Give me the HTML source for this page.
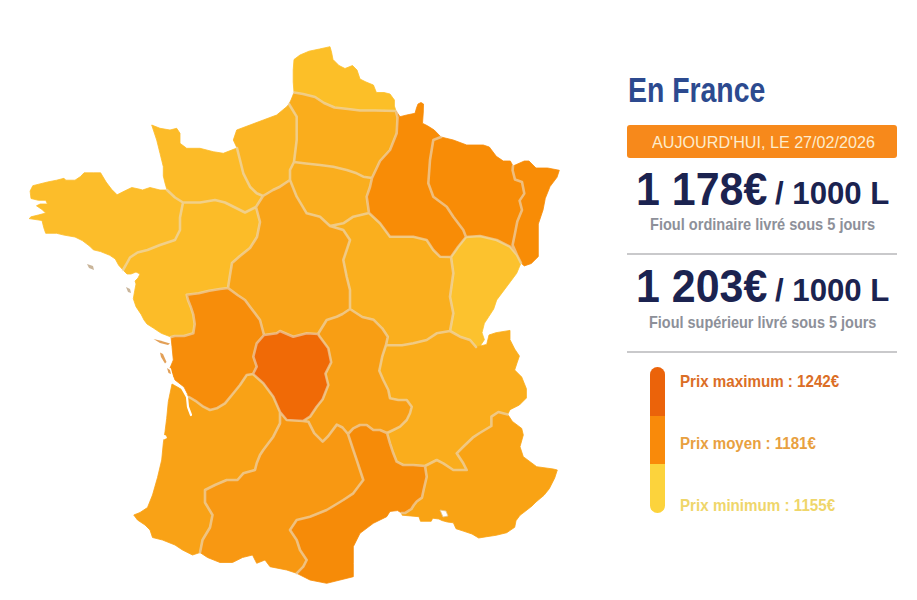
<!DOCTYPE html>
<html><head><meta charset="utf-8">
<style>
html,body{margin:0;padding:0;background:#fff;}
body{width:917px;height:600px;position:relative;overflow:hidden;font-family:"Liberation Sans",sans-serif;}
.t{position:absolute;white-space:nowrap;line-height:1;transform-origin:0 0;}
</style></head><body>
<svg width="917" height="600" viewBox="0 0 917 600" style="position:absolute;left:0;top:0">
<g stroke-linejoin="round">
<path fill="#fcbf28" stroke="#fcbf28" stroke-width="0.8" d="M294,92.5 L293.2,82 L293.2,70 L294,59.5 L300,55 L309,51.2 L319.5,49 L330,46.7 L331.5,52 L333,59.5 L339,65.5 L345,68.5 L352.5,65.5 L357,70 L360,79 L366,82 L373.4,85 L376.4,92.5 L384,92.5 L390,94 L394.4,100 L394.4,106 L396,111 L375,110.5 L360,110.5 L348,109 L334.5,107.5 L324,103 L315,97 L303,94Z"/>
<path fill="#faad1c" stroke="#faad1c" stroke-width="0.8" d="M294,92.5 L303,94 L315,97 L324,103 L334.5,107.5 L348,109 L360,110.5 L375,110.5 L396,111 L397.5,117.5 L396.7,133.3 L390,150 L380,161 L372,178 L363.3,176.7 L356.7,173.3 L346.7,170 L333.3,166.7 L320,165 L306,163.5 L294,162 L296.7,140 L296.7,116.7 L289,104 L291,100Z"/>
<path fill="#fbb524" stroke="#fbb524" stroke-width="0.8" d="M289,104 L296.7,116.7 L296.7,140 L294,162 L290,170 L290,180 L280,186.7 L273,190 L263,196 L256.7,193.3 L250,186.7 L243.3,173.3 L240,160 L237,148 L233.3,140 L236.7,130 L250,125 L263.3,120 L276.7,115 L286.7,106.7Z"/>
<path fill="#fcbb28" stroke="#fcbb28" stroke-width="0.8" d="M237,148 L240,160 L243.3,173.3 L250,186.7 L256.7,193.3 L263,196 L256,207 L245,212.5 L235,207.5 L225,202.5 L215,200 L200,202.5 L183,202.5 L175,197.5 L167,190 L165,183 L163.3,176 L163.3,166.7 L160,153.3 L156.7,140 L151.7,125 L160,128.3 L170,130 L176.7,128.3 L180,133.3 L180,143.3 L186.7,148.3 L200,148.3 L213.3,151.7 L223.3,153.3Z"/>
<path fill="#fcbd2a" stroke="#fcbd2a" stroke-width="0.8" d="M167,190 L175,197.5 L183,202.5 L180,217.5 L180,230 L175,240 L160,245 L147.5,250 L137.5,252.5 L130,257.5 L127,263 L123,270 L118.7,265.3 L115.3,259 L109.8,255.3 L100.6,251.6 L93.3,249.8 L89.6,246.1 L82.3,240.6 L75,237 L64,235.1 L56.6,233.3 L45.7,233.3 L43.8,227.8 L42,220.5 L29.2,218.6 L31,216.8 L38.3,215 L45.7,213.1 L42,209.5 L36.5,205.8 L40.2,204 L47.5,204 L45.7,200.3 L38.3,200.3 L31,198.5 L30.1,191.1 L32.8,185.7 L47.5,182 L56.6,180.2 L64,178.3 L65.8,180.2 L75,180.2 L80.5,176.5 L84.1,172.8 L93.3,172.8 L100.6,172.8 L106.1,182 L111.6,189.3 L117.1,194.8 L124.4,191.1 L131.8,187.5 L140,189.3 L142.5,190 L150,187.5 L160,190Z"/>
<path fill="#fcbc28" stroke="#fcbc28" stroke-width="0.8" d="M183,202.5 L200,202.5 L215,200 L225,202.5 L235,207.5 L245,212.5 L256,207 L260,222 L257,237 L250,248 L240,256 L232,263 L230,275 L228,288 L220,289 L209.3,290.7 L198.7,293.3 L186.7,294.7 L188,300 L190.7,306.7 L193.3,314.7 L194.7,324 L193.3,333.3 L184,336 L174.7,336 L171,337 L161.3,333.3 L153.3,328 L147,324 L144,320 L141.3,314.7 L136,306.7 L133.3,298.7 L134.7,290.7 L136,284 L135,281 L138,278 L140,274 L136,272 L131,274 L127,274 L123,270 L127,263 L130,257.5 L137.5,252.5 L147.5,250 L160,245 L175,240 L180,230 L180,217.5Z"/>
<path fill="#f9a418" stroke="#f9a418" stroke-width="0.8" d="M290,180 L296.7,196.7 L306.7,213.3 L320,216.7 L330,226 L343.3,230 L350,240 L346.7,250 L343.3,260 L346.7,276.7 L350,290 L350,309 L342.5,314 L336.7,316.7 L326.7,320 L318,334 L306.7,333.3 L293.3,336.7 L280,331 L276.7,333.3 L264,335 L260,320 L250,306.7 L245,300 L237.5,295 L228,288 L230,275 L232,263 L240,256 L250,248 L257,237 L260,222 L256,207 L263,196 L273,190 L280,186.7Z"/>
<path fill="#faae1e" stroke="#faae1e" stroke-width="0.8" d="M294,162 L306,163.5 L320,165 L333.3,166.7 L346.7,170 L356.7,173.3 L363.3,176.7 L372,178 L370,187 L366.7,196.7 L369,213 L353.3,216.7 L343.3,223.3 L330,226 L320,216.7 L306.7,213.3 L296.7,196.7 L290,180 L290,170Z"/>
<path fill="#f88c06" stroke="#f88c06" stroke-width="0.8" d="M396,111 L400,116.7 L406.7,115 L415,113.3 L416.5,108 L418,104 L421,102.5 L423.5,104 L423.3,112 L422.5,123.3 L427.5,125.8 L434.2,130 L441,137 L433.3,140 L430,160 L428.3,183.3 L433.3,196.7 L446.7,206.7 L453.3,216.7 L463.3,230 L466,237 L458,247 L451,257 L440,256.7 L433.3,250 L426.7,240 L413.3,236.7 L390,236.7 L380,223.3 L369,213 L366.7,196.7 L370,187 L372,178 L380,161 L390,150 L396.7,133.3 L397.5,117.5Z"/>
<path fill="#f88c06" stroke="#f88c06" stroke-width="0.8" d="M441,137 L453.3,140 L466.7,145 L483.3,145 L489.3,147 L496.3,156.3 L503.3,161 L510.3,161 L513,166 L512.6,170.3 L515,179.6 L522,182 L524.3,193.6 L519.6,200.6 L522,210 L517.3,221.6 L515,233.2 L512.6,245 L517,255 L510,246.7 L496.7,240 L480,236 L466,237 L463.3,230 L453.3,216.7 L446.7,206.7 L433.3,196.7 L428.3,183.3 L430,160 L433.3,140Z"/>
<path fill="#f88c06" stroke="#f88c06" stroke-width="0.8" d="M513,166 L524.3,161 L529,161 L536,168 L547.6,168 L559.3,170.3 L557,177.3 L550,186.6 L545.3,198.3 L543,210 L538.3,224 L538.3,238 L538.3,252 L538.3,256.6 L531.3,263.5 L524.3,265.9 L521,263 L517,255 L512.6,245 L515,233.2 L517.3,221.6 L522,210 L519.6,200.6 L524.3,193.6 L522,182 L515,179.6 L512.6,170.3Z"/>
<path fill="#fcc22e" stroke="#fcc22e" stroke-width="0.8" d="M466,237 L480,236 L496.7,240 L510,246.7 L517,255 L521,263 L516.7,273.3 L506.7,286.7 L496.7,300 L493.7,309 L489,316.3 L484.4,323.3 L482,332.7 L484.4,339.7 L479.7,346.7 L476,347 L470,340 L460,336.7 L450,331 L453.3,313.3 L450,296.7 L453.3,273.3 L451,257 L458,247Z"/>
<path fill="#faaf1e" stroke="#faaf1e" stroke-width="0.8" d="M369,213 L380,223.3 L390,236.7 L413.3,236.7 L426.7,240 L433.3,250 L440,256.7 L451,257 L453.3,273.3 L450,296.7 L453.3,313.3 L450,331 L436.7,333.3 L426.7,340 L413.3,343.3 L402,345.3 L386,345 L387.8,336.8 L382.2,328.3 L373.7,319.8 L362.3,317 L350,309 L350,290 L346.7,276.7 L343.3,260 L346.7,250 L350,240 L343.3,230 L330,226 L343.3,223.3 L353.3,216.7Z"/>
<path fill="#f78d0a" stroke="#f78d0a" stroke-width="0.8" d="M171,337 L174.7,336 L184,336 L193.3,333.3 L194.7,324 L193.3,314.7 L190.7,306.7 L188,300 L186.7,294.7 L198.7,293.3 L209.3,290.7 L220,289 L228,288 L237.5,295 L245,300 L250,306.7 L260,320 L264,335 L256.7,343.3 L253.3,356.7 L256.7,366.7 L253,374 L246.7,375 L240,385 L233.3,393.3 L225,403.3 L216.7,408.3 L210,410 L203.3,406.7 L196.7,401.7 L189,397 L184,387 L175,380 L170,368 L173.3,360 L172,346.7Z"/>
<path fill="#f06a06" stroke="#f06a06" stroke-width="0.8" d="M264,335 L276.7,333.3 L280,331 L293.3,336.7 L306.7,333.3 L318,334 L319.8,336.8 L328.3,348.2 L331.2,362.3 L325.5,373.7 L328.3,385 L322.7,399.2 L316.7,406.7 L310,416.7 L303,421 L286.7,420 L280,412 L273.3,396.7 L263.3,383.3 L253,374 L256.7,366.7 L253.3,356.7 L256.7,343.3Z"/>
<path fill="#f89e14" stroke="#f89e14" stroke-width="0.8" d="M318,334 L326.7,320 L336.7,316.7 L342.5,314 L350,309 L362.3,317 L373.7,319.8 L382.2,328.3 L387.8,336.8 L386,345 L382.2,356.7 L379.3,370.8 L383.3,380 L388.3,390 L390,398.3 L398.3,400 L406.7,400 L411.7,406.7 L410,413.3 L406.7,420 L400,426.7 L393.3,430 L387,433 L380,430 L373.3,430 L366.7,425 L360,425 L353.3,428.3 L348,434 L342.5,427.5 L336.8,424.6 L328.3,436 L322.7,441.6 L314.2,433.1 L308.5,421.8 L303,421 L310,416.7 L316.7,406.7 L322.7,399.2 L328.3,385 L325.5,373.7 L331.2,362.3 L328.3,348.2 L319.8,336.8Z"/>
<path fill="#faad1c" stroke="#faad1c" stroke-width="0.8" d="M386,345 L402,345.3 L413.3,343.3 L426.7,340 L436.7,333.3 L450,331 L460,336.7 L470,340 L476,347 L486.7,344.4 L489,335 L496,332.7 L510,330.4 L510,339.7 L514.7,349 L519.4,356 L517,363 L514.7,370 L521.7,377 L526.4,388.7 L526.4,398 L519.4,405 L510,409.7 L507.7,414.4 L498.4,412 L491.4,416.7 L491.4,426 L479.7,433 L472.7,437.7 L463.3,446.7 L456.7,453.3 L463.3,463.3 L466.7,470 L453.3,470 L443.3,463.3 L436.7,460 L425,466 L413.3,465 L403.3,465 L396.7,461.7 L393.3,453.3 L390,443.3 L387,433 L393.3,430 L400,426.7 L406.7,420 L410,413.3 L411.7,406.7 L406.7,400 L398.3,400 L390,398.3 L388.3,390 L383.3,380 L379.3,370.8 L382.2,356.7Z"/>
<path fill="#f9a314" stroke="#f9a314" stroke-width="0.8" d="M425,466 L436.7,460 L443.3,463.3 L453.3,470 L466.7,470 L463.3,463.3 L456.7,453.3 L463.3,446.7 L472.7,437.7 L479.7,433 L491.4,426 L491.4,416.7 L498.4,412 L507.7,414.4 L512.4,421.4 L521.7,428.4 L523.3,435 L520,446.7 L523.3,456.7 L536.7,466.7 L553.3,469 L557.3,470 L554.7,478 L549.3,488.7 L544,495.3 L536,502 L532,506 L525.3,511.3 L520,515.3 L516,520.7 L514.7,527.3 L506.7,532.7 L496,535.3 L486.7,536.7 L478.7,538 L472,534 L464,531.3 L456,528.7 L453.4,522.8 L447.3,522 L441.9,520.5 L438.9,519 L432.7,518.2 L431.2,521.3 L420.5,521.3 L419,516.7 L402.2,515.2 L401.5,513 L405.3,512.9 L411.4,509 L413.7,505.3 L416.7,501.5 L422,497.6 L423.6,490 L425,484 L426.7,476.7Z"/>
<path fill="#f68b08" stroke="#f68b08" stroke-width="0.8" d="M348,434 L353.3,428.3 L360,425 L366.7,425 L373.3,430 L380,430 L387,433 L390,443.3 L393.3,453.3 L396.7,461.7 L403.3,465 L413.3,465 L425,466 L426.7,476.7 L425,484 L423.6,490 L422,497.6 L416.7,501.5 L413.7,505.3 L411.4,509 L405.3,512.9 L401.5,513 L397.6,510.6 L390,511.4 L386.7,516.7 L373.3,523.3 L360,533.3 L353.3,546.7 L353.3,563.3 L353.3,576.7 L340,580 L326.7,583.3 L310,580 L296.7,573.3 L303.3,566.7 L306.7,560 L300,550 L296.7,540 L290,530 L296.7,520 L310,516.7 L326.7,510 L343.3,500 L353.3,493.3 L363.3,480 L360,470 L356.7,460 L353.3,450Z"/>
<path fill="#f9a216" stroke="#f9a216" stroke-width="0.8" d="M189,397 L196.7,401.7 L203.3,406.7 L210,410 L216.7,408.3 L225,403.3 L233.3,393.3 L240,385 L246.7,375 L253,374 L263.3,383.3 L273.3,396.7 L280,412 L280,423.3 L273.3,436.7 L263.3,450 L260,455 L256.7,463.3 L255,470 L243.3,473.3 L237.5,480 L226.7,480 L215,485 L205,490 L205,502.5 L212.5,515 L210,527.5 L202.5,540 L200,552.5 L192.5,555 L182.5,550 L175,545 L162.5,540 L152.5,537.5 L150,530 L145,525 L137.5,520 L133.75,515 L140,512.5 L147.5,507.5 L152.5,495 L157.5,477.5 L161.7,460 L163.3,443.3 L165,431.7 L166.7,418.3 L168.3,401.7 L172,384 L181,389Z"/>
<path fill="#f89812" stroke="#f89812" stroke-width="0.8" d="M280,412 L286.7,420 L303,421 L308.5,421.8 L314.2,433.1 L322.7,441.6 L328.3,436 L336.8,424.6 L342.5,427.5 L348,434 L353.3,450 L356.7,460 L360,470 L363.3,480 L353.3,493.3 L343.3,500 L326.7,510 L310,516.7 L296.7,520 L290,530 L296.7,540 L300,550 L306.7,560 L303.3,566.7 L296.7,573.3 L286.7,570 L270,566.7 L265,560 L256.7,563.3 L252.5,555 L242.5,557.5 L232.5,562.5 L220,562.5 L207.5,557.5 L200,552.5 L202.5,540 L210,527.5 L212.5,515 L205,502.5 L205,490 L215,485 L226.7,480 L237.5,480 L243.3,473.3 L255,470 L256.7,463.3 L260,455 L263.3,450 L273.3,436.7 L280,423.3Z"/>
</g>
<path fill="none" stroke="#eadcc4" stroke-opacity="0.62" stroke-width="2.6" stroke-linejoin="round" stroke-linecap="round" d="M294,92.5 L303,94 L315,97 L324,103 L334.5,107.5 L348,109 L360,110.5 L375,110.5 L396,111 M396,111 L397.5,117.5 L396.7,133.3 L390,150 L380,161 L372,178 M513,166 L512.6,170.3 L515,179.6 L522,182 L524.3,193.6 L519.6,200.6 L522,210 L517.3,221.6 L515,233.2 L512.6,245 L517,255 M517,255 L521,263 M517,255 L510,246.7 L496.7,240 L480,236 L466,237 M441,137 L433.3,140 L430,160 L428.3,183.3 L433.3,196.7 L446.7,206.7 L453.3,216.7 L463.3,230 L466,237 M466,237 L458,247 L451,257 M451,257 L440,256.7 L433.3,250 L426.7,240 L413.3,236.7 L390,236.7 L380,223.3 L369,213 M369,213 L366.7,196.7 L370,187 L372,178 M294,162 L306,163.5 L320,165 L333.3,166.7 L346.7,170 L356.7,173.3 L363.3,176.7 L372,178 M289,104 L296.7,116.7 L296.7,140 L294,162 M294,162 L290,170 L290,180 M290,180 L280,186.7 L273,190 L263,196 M237,148 L240,160 L243.3,173.3 L250,186.7 L256.7,193.3 L263,196 M167,190 L175,197.5 L183,202.5 M183,202.5 L200,202.5 L215,200 L225,202.5 L235,207.5 L245,212.5 L256,207 M256,207 L263,196 M183,202.5 L180,217.5 L180,230 L175,240 L160,245 L147.5,250 L137.5,252.5 L130,257.5 L127,263 L123,270 M171,337 L174.7,336 L184,336 L193.3,333.3 L194.7,324 L193.3,314.7 L190.7,306.7 L188,300 L186.7,294.7 L198.7,293.3 L209.3,290.7 L220,289 L228,288 M228,288 L230,275 L232,263 L240,256 L250,248 L257,237 L260,222 L256,207 M228,288 L237.5,295 L245,300 L250,306.7 L260,320 L264,335 M264,335 L256.7,343.3 L253.3,356.7 L256.7,366.7 L253,374 M253,374 L246.7,375 L240,385 L233.3,393.3 L225,403.3 L216.7,408.3 L210,410 L203.3,406.7 L196.7,401.7 L189,397 M200,552.5 L202.5,540 L210,527.5 L212.5,515 L205,502.5 L205,490 L215,485 L226.7,480 L237.5,480 L243.3,473.3 L255,470 L256.7,463.3 L260,455 L263.3,450 L273.3,436.7 L280,423.3 L280,412 M253,374 L263.3,383.3 L273.3,396.7 L280,412 M280,412 L286.7,420 L303,421 M264,335 L276.7,333.3 L280,331 L293.3,336.7 L306.7,333.3 L318,334 M318,334 L319.8,336.8 L328.3,348.2 L331.2,362.3 L325.5,373.7 L328.3,385 L322.7,399.2 L316.7,406.7 L310,416.7 L303,421 M318,334 L326.7,320 L336.7,316.7 L342.5,314 L350,309 M350,309 L350,290 L346.7,276.7 L343.3,260 L346.7,250 L350,240 L343.3,230 L330,226 M330,226 L320,216.7 L306.7,213.3 L296.7,196.7 L290,180 M330,226 L343.3,223.3 L353.3,216.7 L369,213 M350,309 L362.3,317 L373.7,319.8 L382.2,328.3 L387.8,336.8 L386,345 M386,345 L402,345.3 L413.3,343.3 L426.7,340 L436.7,333.3 L450,331 M451,257 L453.3,273.3 L450,296.7 L453.3,313.3 L450,331 M450,331 L460,336.7 L470,340 L476,347 M507.7,414.4 L498.4,412 L491.4,416.7 L491.4,426 L479.7,433 L472.7,437.7 L463.3,446.7 L456.7,453.3 L463.3,463.3 L466.7,470 L453.3,470 L443.3,463.3 L436.7,460 L425,466 M425,466 L426.7,476.7 L425,484 L423.6,490 L422,497.6 L416.7,501.5 L413.7,505.3 L411.4,509 L405.3,512.9 L401.5,513 M386,345 L382.2,356.7 L379.3,370.8 L383.3,380 L388.3,390 L390,398.3 L398.3,400 L406.7,400 L411.7,406.7 L410,413.3 L406.7,420 L400,426.7 L393.3,430 L387,433 M387,433 L380,430 L373.3,430 L366.7,425 L360,425 L353.3,428.3 L348,434 M303,421 L308.5,421.8 L314.2,433.1 L322.7,441.6 L328.3,436 L336.8,424.6 L342.5,427.5 L348,434 M387,433 L390,443.3 L393.3,453.3 L396.7,461.7 L403.3,465 L413.3,465 L425,466 M348,434 L353.3,450 L356.7,460 L360,470 L363.3,480 L353.3,493.3 L343.3,500 L326.7,510 L310,516.7 L296.7,520 L290,530 L296.7,540 L300,550 L306.7,560 L303.3,566.7 L296.7,573.3"/>
<path fill="none" stroke="#ffffff" stroke-width="2.2" stroke-linecap="round" d="M170,369 L173,381 L182,388 L187,397 L188,407 L191,415"/>
<path fill="#e2a058" d="M153.5,339 L160,340.5 L170,343.5 L168,345 L160,343 Z"/>
<path fill="#e2a058" d="M160,352.5 L163,354 L166.5,362 L165,363.5 L161,357 Z"/>
<path fill="#e2a058" d="M167,368 L170,370 L171,374 L168.5,373 Z"/>
<path fill="#c9b59a" d="M126,287 L130,289 L131,293 L128,292Z"/>
<path fill="#c9b59a" d="M87,264 L93,266 L94,270 L89,268Z"/>
<path fill="#ffffff" d="M161,434 L166,435.5 L167,438 L164,439.5 L161,438 Z"/>
<path fill="#ffffff" stroke="#e2c48e" stroke-width="0.8" d="M440,510 L446,511 L448,516 L443,517 Z"/>
</svg>
<div style="position:absolute;left:627px;top:125px;width:270px;height:33px;background:#f7891b;border-radius:3px"></div>
<div class="t" id="title" style="left:627.97px;top:73.36px;font-size:34.88px;font-weight:bold;color:#2c4a8f;transform:scaleX(0.814)">En France</div>
<div class="t" id="banner" style="left:652.00px;top:134.48px;font-size:17.15px;font-weight:normal;color:#fdeccc;transform:scaleX(0.942)">AUJOURD'HUI, LE 27/02/2026</div>
<div class="t" id="p1a" style="left:635.80px;top:165.61px;font-size:46.40px;font-weight:bold;color:#1b2350;transform:scaleX(0.925)">1 178€</div>
<div class="t" id="p1b" style="left:775.20px;top:177.83px;font-size:31.50px;font-weight:bold;color:#1b2350;transform:scaleX(0.990)">/ 1000 L</div>
<div class="t" id="s1" style="left:650.33px;top:217.45px;font-size:16.72px;font-weight:bold;color:#8d9099;transform:scaleX(0.872)">Fioul ordinaire livré sous 5 jours</div>
<div style="position:absolute;left:627px;top:253px;width:270px;height:2px;background:#c9c9cb"></div>
<div class="t" id="p2a" style="left:635.80px;top:262.61px;font-size:46.40px;font-weight:bold;color:#1b2350;transform:scaleX(0.925)">1 203€</div>
<div class="t" id="p2b" style="left:775.20px;top:274.83px;font-size:31.50px;font-weight:bold;color:#1b2350;transform:scaleX(0.990)">/ 1000 L</div>
<div class="t" id="s2" style="left:649.13px;top:314.77px;font-size:16.57px;font-weight:bold;color:#8d9099;transform:scaleX(0.873)">Fioul supérieur livré sous 5 jours</div>
<div style="position:absolute;left:627px;top:351px;width:270px;height:2px;background:#c9c9cb"></div>
<div style="position:absolute;left:650px;top:367px;width:15px;height:146px;border-radius:7.5px;overflow:hidden"><div style="height:49px;background:#eb630a"></div><div style="height:48px;background:#f98a0a"></div><div style="height:49px;background:#fcd33c"></div></div>
<div class="t" id="l1" style="left:679.52px;top:372.96px;font-size:17.30px;font-weight:bold;color:#db6e26;transform:scaleX(0.877)">Prix maximum : 1242€</div>
<div class="t" id="l2" style="left:679.50px;top:435.04px;font-size:17.20px;font-weight:bold;color:#e8a040;transform:scaleX(0.878)">Prix moyen : 1181€</div>
<div class="t" id="l3" style="left:679.52px;top:496.66px;font-size:17.30px;font-weight:bold;color:#efd66a;transform:scaleX(0.878)">Prix minimum : 1155€</div>
</body></html>
